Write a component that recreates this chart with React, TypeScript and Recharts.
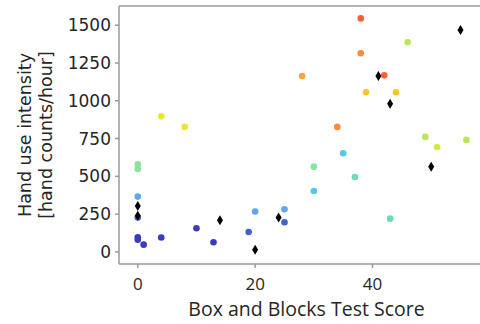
import React from "react";
import {
  ScatterChart, Scatter, XAxis, YAxis, ReferenceLine, Label,
} from "recharts";

// x: Box and Blocks score, y: hand counts per hour
const redPts = [{ x: 38, y: 1545 }, { x: 42, y: 1168 }];
const orangePts = [{ x: 38, y: 1314 }, { x: 34, y: 827 }];
const lightOrangePts = [{ x: 28, y: 1164 }];
const amberPts = [{ x: 38.9, y: 1056 }, { x: 44, y: 1056 }];
const yellowPts = [{ x: 4, y: 897 }, { x: 8, y: 827 }];
const yellowGreenPts = [{ x: 51, y: 694 }];
const limePts = [{ x: 46, y: 1387 }, { x: 49, y: 761 }, { x: 56, y: 741 }];
const greenPts = [{ x: 0, y: 580 }, { x: 0, y: 548 }, { x: 30, y: 564 }];
const aquaPts = [{ x: 37, y: 496 }, { x: 43, y: 220 }];
const cyanPts = [{ x: 30, y: 403 }, { x: 35, y: 653 }];
const skyPts = [{ x: 0, y: 366 }, { x: 20, y: 267 }, { x: 25, y: 282 }];
const midBluePts = [{ x: 0, y: 228 }, { x: 25, y: 196 }, { x: 18.9, y: 132 }];
const darkBluePts = [
  { x: 0, y: 97 }, { x: 0, y: 80 }, { x: 1, y: 48 }, { x: 4, y: 95 },
  { x: 12.9, y: 64 }, { x: 10, y: 157 },
];
const diamondPts = [
  { x: 0, y: 304 }, { x: 0, y: 240 }, { x: 14, y: 210 }, { x: 20, y: 15 },
  { x: 24, y: 227 }, { x: 41, y: 1164 }, { x: 43, y: 981 }, { x: 50, y: 564 },
  { x: 55, y: 1468 },
];

const yTicks = [0, 250, 500, 750, 1000, 1250, 1500];
const xTicks = [0, 20, 40];

const groups = [
  { data: darkBluePts, color: "#3a3cbc" },
  { data: midBluePts, color: "#3f62d2" },
  { data: skyPts, color: "#5ea8ea" },
  { data: cyanPts, color: "#56c8e4" },
  { data: aquaPts, color: "#6adcbc" },
  { data: greenPts, color: "#88e49a" },
  { data: limePts, color: "#bce65a" },
  { data: yellowGreenPts, color: "#d6e83a" },
  { data: yellowPts, color: "#ece632" },
  { data: amberPts, color: "#ffc42c" },
  { data: lightOrangePts, color: "#ffa23a" },
  { data: orangePts, color: "#ff8a3c" },
  { data: redPts, color: "#ff5e34" },
];

const AXIS = "#9a9a9a";
const TXT = "#262626";

const Dot = (color: string) => (p: any) => (
  <circle cx={p.cx} cy={p.cy} r={3.3} fill={color} />
);

const Diamond = (p: any) => (
  <path
    d={`M${p.cx},${p.cy - 5} L${p.cx + 3},${p.cy} L${p.cx},${p.cy + 5} L${p.cx - 3},${p.cy} Z`}
    fill="#000"
  />
);

const YLabel = (props: any) => {
  const { viewBox } = props;
  const cy = viewBox.y + viewBox.height / 2;
  return (
    <text
      transform={`translate(0,${cy}) rotate(-90)`}
      textAnchor="middle"
      fill={TXT}
      fontSize={17.5}
      fontFamily="DejaVu Sans"
    >
      <tspan x={0} y={31}>Hand use intensity</tspan>
      <tspan x={0} y={52}>[hand counts/hour]</tspan>
    </text>
  );
};

export default function App() {
  return (
    <div style={{ position: "fixed", left: 0, top: 0, width: 480, height: 324, overflow: "hidden", background: "#fff" }}>
      <ScatterChart width={484} height={324} margin={{ top: 6, right: 0, bottom: 0, left: 0 }}>
        <XAxis
          type="number"
          dataKey="x"
          domain={[-3.2, 59]}
          ticks={xTicks}
          allowDataOverflow
          height={60}
          stroke={AXIS}
          strokeWidth={1.5}
          tickSize={4}
          tickMargin={10}
          tick={{ fill: TXT, fontSize: 17, fontFamily: "Open Sans" }}
        >
          <Label
            value="Box and Blocks Test Score"
            position="insideBottom"
            offset={8}
            dx={5}
            fill={TXT}
            fontSize={19.5}
            fontFamily="Open Sans"
          />
        </XAxis>
        <YAxis
          type="number"
          dataKey="y"
          domain={[-80, 1627]}
          ticks={yTicks}
          allowDataOverflow
          width={119}
          stroke={AXIS}
          strokeWidth={1.5}
          tickSize={4}
          tickMargin={4}
          tick={{ fill: TXT, fontSize: 17, fontFamily: "DejaVu Sans" }}
          label={<YLabel />}
        />
        <ReferenceLine y={1627} stroke={AXIS} strokeWidth={1.5} />
        {groups.map((g, i) => (
          <Scatter key={i} data={g.data} shape={Dot(g.color)} isAnimationActive={false} />
        ))}
        <Scatter data={diamondPts} shape={Diamond} isAnimationActive={false} />
      </ScatterChart>
    </div>
  );
}
